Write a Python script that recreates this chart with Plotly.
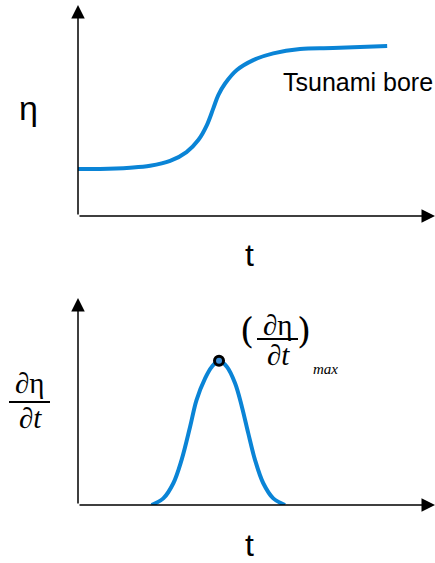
import plotly.graph_objects as go

W, H = 435, 563

# top panel: tsunami bore water level eta(t)
t_bore = [0.0, 0.62, 1.46, 2.02, 2.58, 3.04, 3.37, 3.61, 3.79, 3.93, 4.12, 4.45, 4.91, 5.47, 6.22, 7.14, 8.66]
eta_bore = [2.23, 2.23, 2.29, 2.38, 2.61, 3.03, 3.6, 4.31, 5.1, 5.73, 6.28, 6.92, 7.39, 7.71, 7.92, 7.96, 8.06]

# bottom panel: d eta / dt
t_rate = [2.06, 2.39, 2.67, 2.9, 3.14, 3.32, 3.56, 3.75, 3.95, 4.17, 4.4, 4.59, 4.77, 4.96, 5.19, 5.47, 5.8]
rate = [0.0, 0.32, 1.05, 2.17, 3.78, 5.07, 6.12, 6.68, 6.97, 6.68, 5.88, 4.75, 3.46, 2.17, 1.05, 0.32, 0.0]
t_peak = [3.95]
rate_peak = [6.97]

BLUE = "#0a84d6"


def px_x(p):
    return p / W


def px_y(p):
    return 1 - p / H


fig = go.Figure()

fig.add_trace(go.Scatter(
    x=t_bore, y=eta_bore, mode="lines", line=dict(color=BLUE, width=4, shape="spline"),
    xaxis="x", yaxis="y", hoverinfo="skip", cliponaxis=False
))
fig.add_trace(go.Scatter(
    x=t_rate, y=rate, mode="lines", line=dict(color=BLUE, width=4, shape="spline"),
    xaxis="x2", yaxis="y2", hoverinfo="skip", cliponaxis=False
))
fig.add_trace(go.Scatter(
    x=t_peak, y=rate_peak, mode="markers",
    marker=dict(size=9, color="#3d8fd8", line=dict(color="black", width=3)),
    xaxis="x2", yaxis="y2", hoverinfo="skip", cliponaxis=False
))

ax_style = dict(visible=False, fixedrange=True)
fig.update_layout(
    width=W, height=H,
    margin=dict(l=0, r=0, t=0, b=0),
    paper_bgcolor="white", plot_bgcolor="white",
    showlegend=False,
    xaxis=dict(domain=[px_x(78), 1], range=[0, 10], anchor="y", **ax_style),
    yaxis=dict(domain=[px_y(216), 1], range=[0, 216 / 21.1], anchor="x", **ax_style),
    xaxis2=dict(domain=[px_x(78), 1], range=[0, 10], anchor="y2", **ax_style),
    yaxis2=dict(domain=[px_y(505), px_y(290)], range=[0, 215 / 20.7], anchor="x2", **ax_style),
)

# axis arrows
arrow = dict(showarrow=True, arrowhead=2, arrowsize=1.8, arrowwidth=1.5, arrowcolor="black", text="")
for xr, yr in [("x", "y"), ("x2", "y2")]:
    ytop = 211 / 21.1 if yr == "y" else 207 / 20.7
    fig.add_annotation(x=10, y=0, ax=0, ay=0, xref=xr, yref=yr, axref=xr, ayref=yr, **arrow)
    fig.add_annotation(x=0, y=ytop, ax=0, ay=0, xref=xr, yref=yr, axref=xr, ayref=yr, **arrow)

sans = "Liberation Sans, Arial, sans-serif"
serif = "Liberation Serif, Times New Roman, serif"


def label(text, x, y, size, family=sans, xanchor="center", yanchor="middle"):
    fig.add_annotation(text=text, x=px_x(x), y=px_y(y), xref="paper", yref="paper",
                       showarrow=False, xanchor=xanchor, yanchor=yanchor,
                       font=dict(size=size, family=family, color="black"))


label("η", 28, 108, 34)
label("t", 249, 255, 32)
label("Tsunami bore", 281, 82, 25, xanchor="left")
label("t", 249, 545, 32)

# left fraction d eta / dt
label("∂η", 30, 383, 29, serif)
label("∂<i>t</i>", 30, 418, 29, serif)
# annotation (d eta / dt)_max
label("∂η", 278, 325, 29, serif)
label("∂<i>t</i>", 278, 355, 29, serif)
label("(", 247, 330, 36, "DejaVu Serif")
label(")", 304, 330, 36, "DejaVu Serif")
label("<i>max</i>", 311, 369, 15, serif, xanchor="left")

for x0, x1, yb in [(9, 50, 402), (257, 298, 339)]:
    fig.add_shape(type="line", xref="paper", yref="paper",
                  x0=px_x(x0), x1=px_x(x1), y0=px_y(yb), y1=px_y(yb),
                  line=dict(color="black", width=2))

fig.write_html("out.html", config={"displayModeBar": False},
               post_script="document.body.style.margin = '0';")
